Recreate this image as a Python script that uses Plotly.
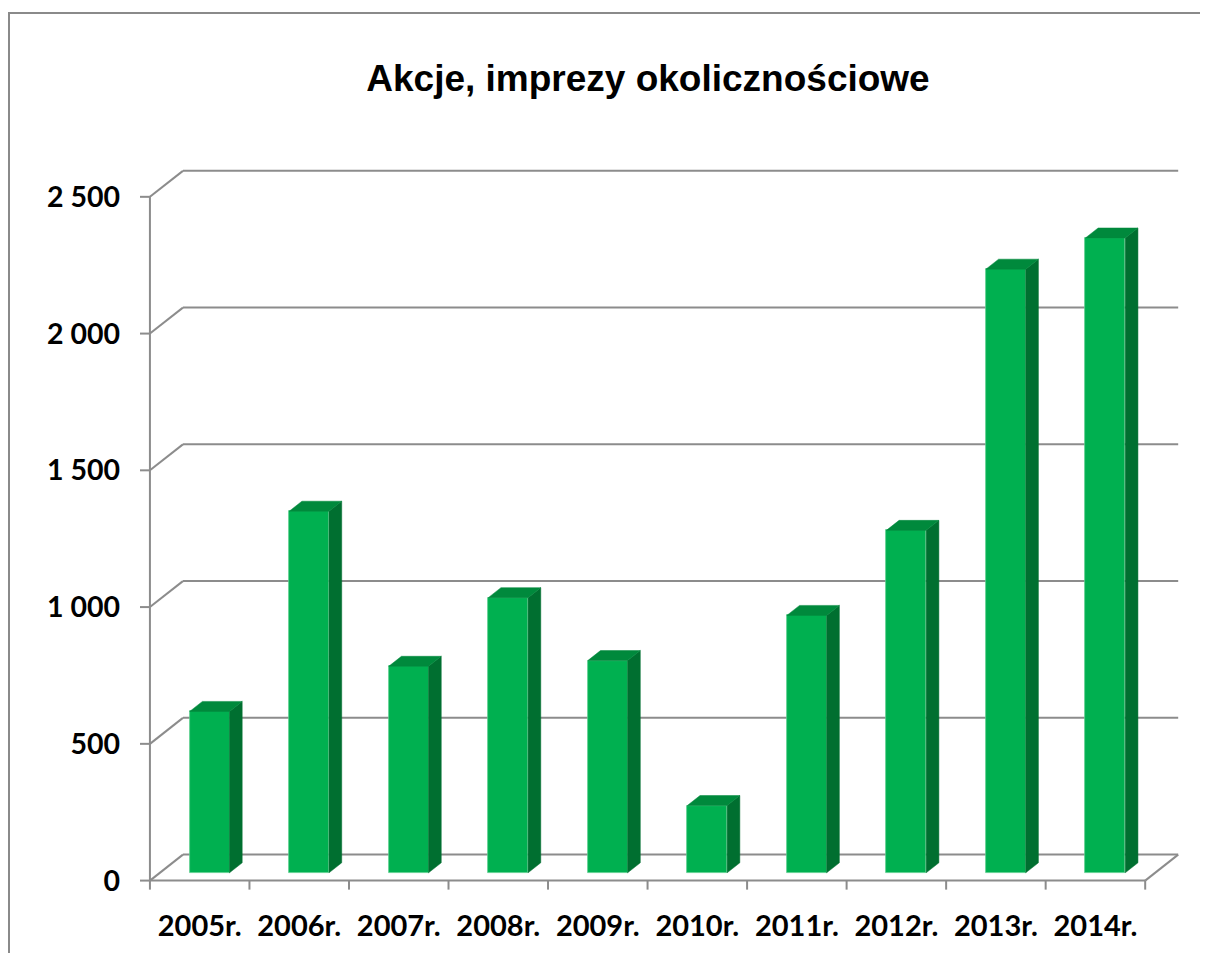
import plotly.graph_objects as go

# ---- data ----
categories = ["2005r.", "2006r.", "2007r.", "2008r.", "2009r.", "2010r.", "2011r.", "2012r.", "2013r.", "2014r."]
values = [590, 1322, 755, 1006, 776, 246, 941, 1252, 2207, 2321]
y_tick_vals = [0, 500, 1000, 1500, 2000, 2500]
y_tick_text = ["0", "500", "1 000", "1 500", "2 000", "2 500"]
title_text = "Akcje, imprezy okolicznościowe"

# ---- oblique projection settings (data units) ----
DX = 0.3316   # depth offset along x (category units)
DY = 95.0     # depth offset along y (value units)
F0, F1 = 0.30, 0.685   # bar depth span (fraction of full depth)
HALF_W = 0.20

FRONT = "#00B050"
SIDE = "#006F30"
TOP = "#00893C"
GRID = "#8C8C8C"

n = len(categories)
xs = list(range(n))

fig = go.Figure()

# side and top faces
sx, sy = [], []
tx, ty = [], []
for c, v in zip(xs, values):
    xr0 = c + HALF_W + F0 * DX
    xr1 = c + HALF_W + F1 * DX
    xl0 = c - HALF_W + F0 * DX
    xl1 = c - HALF_W + F1 * DX
    sx += [xr0, xr1, xr1, xr0, xr0, None]
    sy += [F0 * DY, F1 * DY, v + F1 * DY, v + F0 * DY, F0 * DY, None]
    tx += [xl0, xr0, xr1, xl1, xl0, None]
    ty += [v + F0 * DY, v + F0 * DY, v + F1 * DY, v + F1 * DY, v + F0 * DY, None]

fig.add_trace(go.Scatter(x=sx, y=sy, mode="lines", fill="toself", fillcolor=SIDE,
                         line=dict(width=0.5, color=SIDE), hoverinfo="skip", showlegend=False))
fig.add_trace(go.Scatter(x=tx, y=ty, mode="lines", fill="toself", fillcolor=TOP,
                         line=dict(width=0.5, color=TOP), hoverinfo="skip", showlegend=False))
# front faces
fig.add_trace(go.Bar(x=[c + F0 * DX for c in xs], y=values, base=[F0 * DY] * n,
                     width=2 * HALF_W, marker=dict(color=FRONT, line=dict(width=0.8, color="#5ccf8e")),
                     showlegend=False, hovertext=categories))

# ---- walls / gridlines ----
shapes = []
def line(x0, y0, x1, y1):
    shapes.append(dict(type="line", xref="x", yref="y", x0=x0, y0=y0, x1=x1, y1=y1,
                       line=dict(color=GRID, width=2), layer="below"))

left, right = -0.5, n - 0.5
for v in y_tick_vals:
    line(left, v, left + DX, v + DY)
    line(left + DX, v + DY, right + DX, v + DY)
    line(left - 0.1, v, left, v)          # y tick mark
# floor
line(left, 0, right, 0)
line(right, 0, right + DX, DY)
# front vertical axis
line(left, 0, left, y_tick_vals[-1])
# x tick marks
for k in range(n + 1):
    line(left + k, 0, left + k, -33)

# outer chart border (top-left corner visible)
shapes.append(dict(type="path", xref="paper", yref="paper",
                   path="M -0.12,-0.2 L -0.12,1.206 L 1.1,1.206",
                   line=dict(color="#8A8A8A", width=2)))

fig.update_layout(
    width=1192, height=945,
    margin=dict(l=127, r=15, t=156, b=56),
    paper_bgcolor="white", plot_bgcolor="white",
    shapes=shapes,
    title=dict(text=title_text, x=640 / 1192, xanchor="center", y=1 - 70 / 945, yanchor="middle",
               font=dict(family="Liberation Sans, Arial", size=37, color="black", weight="bold")),
    xaxis=dict(range=[-0.65, 9.9], showgrid=False, zeroline=False, showline=False,
               tickvals=xs, ticktext=categories, ticks="", ticklabelstandoff=9,
               tickfont=dict(family="Lato", size=29, color="black", weight="bold")),
    yaxis=dict(range=[-60, 2620], showgrid=False, zeroline=False, showline=False,
               tickvals=y_tick_vals, ticktext=y_tick_text, ticks="", ticklabelstandoff=14,
               tickfont=dict(family="Lato", size=28.5, color="black", weight="bold")),
    bargap=0,
)

fig.write_html("out.html")
